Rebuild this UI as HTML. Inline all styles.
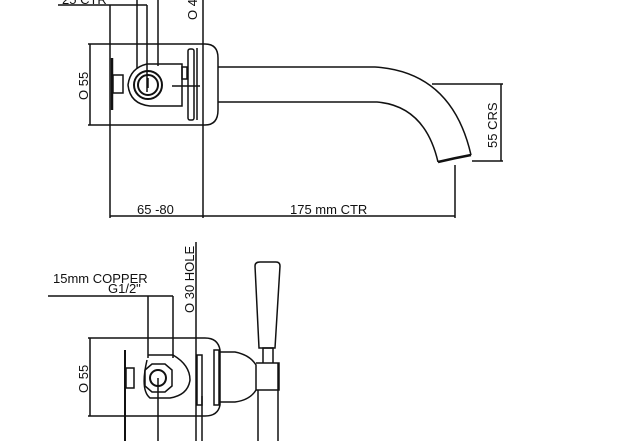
<!DOCTYPE html>
<html><head><meta charset="utf-8"><style>
html,body{margin:0;padding:0;background:#fff;}
svg{display:block}
text{font-family:"Liberation Sans",sans-serif;font-size:13px;fill:#111}
</style></head><body>
<svg width="638" height="441" viewBox="0 0 638 441" xmlns="http://www.w3.org/2000/svg">
<g fill="none" stroke="#111" stroke-width="1.5">
<line x1="58" y1="5" x2="147" y2="5"/>
<line x1="110" y1="5" x2="110" y2="218"/>
<line x1="137" y1="0" x2="137" y2="68"/>
<line x1="147" y1="5" x2="147" y2="92"/>
<line x1="158" y1="0" x2="158" y2="66"/>
<line x1="203" y1="0" x2="203" y2="218"/>
<path d="M88 44 H205 Q218 44 218 58 V110 Q218 125 205 125 H88"/>
<line x1="90" y1="44" x2="90" y2="125"/>
<line x1="112" y1="58" x2="112" y2="110" stroke-width="2.5"/>
<rect x="113" y="75" width="10" height="18"/>
<path d="M128 85 Q130 68 147 64 H182 V106 H150 Q130 104 128 85Z"/>
<circle cx="148" cy="85" r="14" stroke-width="2"/>
<circle cx="148" cy="85" r="10" stroke-width="2"/>
<line x1="148" y1="78" x2="148" y2="88"/>
<rect x="182" y="67" width="5" height="12"/>
<line x1="172" y1="86" x2="200" y2="86"/>
<rect x="188" y="49" width="6" height="71" rx="2"/>
<line x1="197" y1="48" x2="197" y2="120"/>
<path d="M218 67 H375 Q452 72 471 155"/>
<path d="M218 102 H377 Q425 106 438 162"/>
<path d="M438 162 Q455 158 471 155" stroke-width="2.5"/>
<line x1="432" y1="84" x2="503" y2="84"/>
<line x1="472" y1="161" x2="503" y2="161"/>
<line x1="501" y1="84" x2="501" y2="161"/>
<line x1="455" y1="165" x2="455" y2="218"/>
<line x1="110" y1="216" x2="455" y2="216"/>

<line x1="48" y1="296" x2="173" y2="296"/>
<line x1="148" y1="296" x2="148" y2="358"/>
<line x1="173" y1="296" x2="173" y2="358"/>
<line x1="196" y1="242" x2="196" y2="441"/>
<path d="M88 338 H205 Q218 338 220 350 V405 Q218 416 205 416 H88"/>
<line x1="90" y1="338" x2="90" y2="416"/>
<line x1="125" y1="350" x2="125" y2="441" stroke-width="2"/>
<rect x="126" y="368" width="8" height="20"/>
<path d="M148 355 H173 Q190 365 190 380 Q188 395 170 398 H150 Q140 390 147 360"/>
<polygon points="145,370 152,364 165,364 172,370 172,386 165,392 152,392 145,386" />
<circle cx="158" cy="378" r="8" stroke-width="2"/>
<line x1="158" y1="378" x2="158" y2="441"/>
<rect x="197" y="355" width="5" height="50"/>
<line x1="202" y1="396" x2="202" y2="441"/>
<rect x="214" y="350" width="5" height="55"/>
<path d="M220 352 H235 Q250 355 256 365 V390 Q250 400 235 402 H220"/>
<path d="M256 363 H279 V390 H256"/>
<line x1="258" y1="390" x2="258" y2="441"/>
<line x1="278" y1="363" x2="278" y2="441"/>
<path d="M263 363 V348 H273 V363"/>
<path d="M259 348 L255 266 Q255 262 260 262 H276 Q280 262 280 266 L275 348 Z"/>
</g>
<text x="62" y="4">25 CTR</text>
<text x="137" y="214">65 -80</text>
<text x="290" y="214">175 mm CTR</text>
<text transform="translate(88,100) rotate(-90)">O 55</text>
<text transform="translate(197,20) rotate(-90)">O 4</text>
<text transform="translate(497,148) rotate(-90)">55  CRS</text>
<text x="53" y="283">15mm COPPER</text>
<text x="108" y="293">G1/2"</text>
<text transform="translate(194,313) rotate(-90)">O 30  HOLE</text>
<text transform="translate(88,393) rotate(-90)">O 55</text>
</svg>
</body></html>
